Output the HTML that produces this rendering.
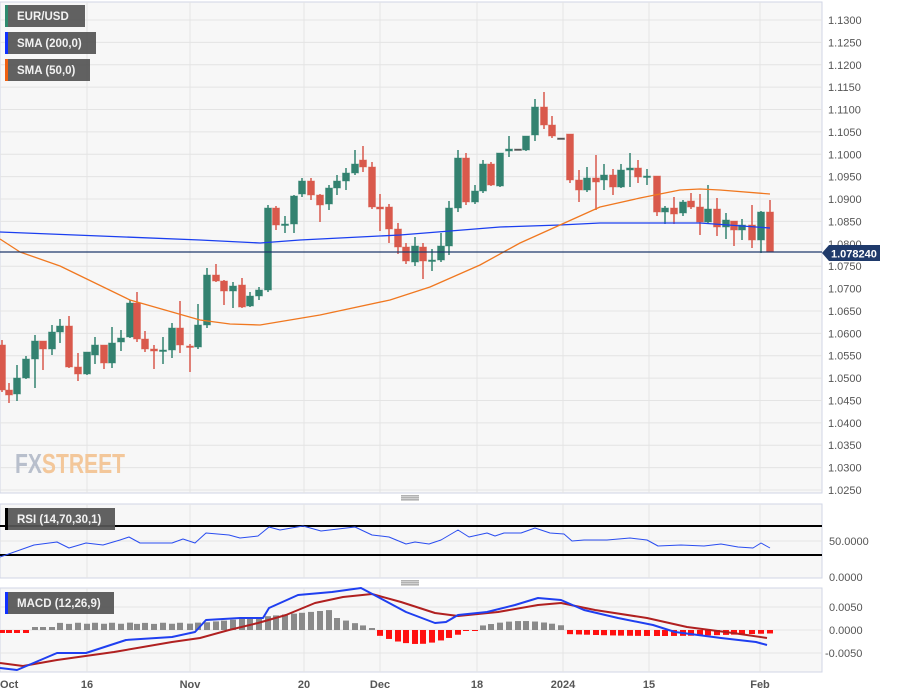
<!DOCTYPE html>
<html><head><meta charset="utf-8"><style>
body{margin:0;background:#fff;font-family:"Liberation Sans",sans-serif}
svg{display:block}
</style></head><body>
<svg id="s" width="898" height="697" xmlns="http://www.w3.org/2000/svg" font-family="Liberation Sans, sans-serif"></svg>
<script>
const s=document.getElementById('s');let h='';
h+='<rect x="0" y="2" width="822" height="491" fill="#f7f7f7" stroke="#d0d6e6"/>';
h+='<rect x="0" y="504" width="822" height="74" fill="#f7f7f7" stroke="#d0d6e6"/>';
h+='<rect x="0" y="588" width="822" height="84" fill="#f7f7f7" stroke="#d0d6e6"/>';
const vx=[87,190,304,380,477,563,649,760];
vx.forEach(x=>{h+=`<line x1="${x}" y1="2" x2="${x}" y2="493" stroke="#e4e4e4"/><line x1="${x}" y1="504" x2="${x}" y2="578" stroke="#e4e4e4"/><line x1="${x}" y1="588" x2="${x}" y2="672" stroke="#e4e4e4"/>`});
for(let i=0;i<=21;i++){const y=20+i*470/21;const p=(1.13-i*0.005).toFixed(4);
h+=`<line x1="0" y1="${y}" x2="822" y2="${y}" stroke="#e4e4e4"/><text x="828" y="${y+4}" font-size="11" fill="#555">${p}</text>`;}
[[607,'0.0050'],[630,'0.0000'],[653,'-0.0050']].forEach(a=>{h+=`<line x1="0" y1="${a[0]}" x2="822" y2="${a[0]}" stroke="#e4e4e4"/><text x="${a[1][0]=='-'?825:829}" y="${a[0]+4}" font-size="11" fill="#555">${a[1]}</text>`});
h+='<line x1="0" y1="541" x2="822" y2="541" stroke="#e4e4e4"/><text x="829" y="545" font-size="11" fill="#555">50.0000</text><text x="829" y="581" font-size="11" fill="#555">0.0000</text>';
[498,583].forEach(y=>{h+=`<rect x="401" y="${y-2.5}" width="18" height="0.8" fill="#666"/><rect x="401" y="${y-0.5}" width="18" height="0.8" fill="#666"/><rect x="401" y="${y+1.5}" width="18" height="0.8" fill="#666"/>`});
h+='<text x="15" y="473" font-size="28" font-weight="bold" textLength="110" lengthAdjust="spacingAndGlyphs" fill="#b8bfcc">FX<tspan fill="#f3c79a">STREET</tspan></text>';
const C=[[2,345,390,340,392,'r'],[9,390,395,383,403,'r'],[17,378,394,365,401,'g'],[26,359,378,356,379,'g'],[35,341,359,335,388,'g'],[43,341,349,341,370,'r'],[52,332,349,325,355,'g'],[60,326,332,319,343,'g'],[69,326,367,316,368,'r'],[78,367,374,353,381,'r'],[87,352,374,352,375,'g'],[95,345,355,337,364,'g'],[104,345,363,345,369,'r'],[112,343,363,327,368,'g'],[121,338,342,330,351,'g'],[130,303,337,300,338,'g'],[137,303,339,292,342,'r'],[145,339,349,331,352,'r'],[154,349,351,345,369,'r'],[163,350,351,337,364,'g'],[172,328,350,323,358,'g'],[180,328,345,301,353,'r'],[190,346,347,344,372,'r'],[198,325,347,304,349,'g'],[207,275,325,268,328,'g'],[216,275,281,264,282,'r'],[224,281,291,280,305,'r'],[233,286,291,282,308,'g'],[242,285,307,278,308,'r'],[250,296,306,292,307,'g'],[259,290,296,287,300,'g'],[268,208,290,205,292,'g'],[276,208,225,206,230,'r'],[285,224,225,216,233,'g'],[294,196,224,195,233,'g'],[302,181,194,178,197,'g'],[311,181,195,178,200,'r'],[320,195,205,194,222,'r'],[329,188,204,185,210,'g'],[337,181,188,175,195,'g'],[346,173,181,168,190,'g'],[355,164,173,150,175,'g'],[363,160,167,146,172,'r'],[372,167,207,162,209,'r'],[380,207,209,194,231,'r'],[389,207,229,204,243,'r'],[398,229,247,223,254,'r'],[406,247,261,243,264,'r'],[415,246,262,237,266,'g'],[423,247,261,243,279,'r'],[432,260,261,249,271,'g'],[441,246,260,233,262,'g'],[449,208,246,201,255,'g'],[458,158,208,150,212,'g'],[466,158,202,153,205,'r'],[475,191,202,185,204,'g'],[483,164,191,160,193,'g'],[491,164,185,162,186,'r'],[500,153,186,153,187,'g'],[509,149,151,136,157,'g'],[518,149,150,149,150,'k'],[526,136,150,136,151,'g'],[535,107,135,99,141,'g'],[544,107,125,92,129,'r'],[552,125,136,116,138,'r'],[561,138,139,138,139,'k'],[570,134,180,134,183,'r'],[579,180,190,170,202,'r'],[587,178,190,167,192,'g'],[596,178,182,155,210,'r'],[604,175,180,164,190,'g'],[613,175,187,169,195,'r'],[621,170,187,164,188,'g'],[630,168,170,153,187,'g'],[638,168,177,160,183,'r'],[647,176,177,169,185,'g'],[657,176,212,176,216,'r'],[665,208,212,206,224,'g'],[674,208,214,197,224,'r'],[683,202,213,200,216,'g'],[691,201,207,193,209,'r'],[700,207,222,194,235,'r'],[708,209,222,185,224,'g'],[717,209,227,198,236,'r'],[726,220,227,213,239,'g'],[734,221,230,221,246,'r'],[742,225,230,219,240,'g'],[752,225,240,205,248,'r'],[761,212,240,211,253,'g'],[770,212,252,200,252,'r']];
C.forEach(c=>{const col=c[5]=='g'?'#338270':c[5]=='r'?'#d9594c':'#555';const hh=Math.max(c[2]-c[1],1.5);
h+=`<line x1="${c[0]}" y1="${c[3]}" x2="${c[0]}" y2="${c[4]}" stroke="${col}" stroke-width="1.5"/><rect x="${c[0]-3.5}" y="${c[1]}" width="7" height="${hh}" fill="${col}" stroke="${col}" stroke-opacity="0.4"/>`});
function pl(p,col,w){return `<polyline fill="none" stroke="${col}" stroke-width="${w}" stroke-linejoin="round" points="${p.map(a=>a.join(',')).join(' ')}"/>`}
h+=pl([[0,232],[100,236],[200,240],[260,243],[300,240],[400,235],[450,231],[500,227],[560,225],[600,223],[700,223],[770,228]],'#1b3ff0',1.3);
h+=pl([[0,239],[20,252],[60,266],[130,300],[200,320],[230,324],[260,325],[290,320],[320,315],[390,300],[430,287],[480,265],[520,243],[560,225],[600,207],[640,198],[680,190],[700,189],[720,190],[770,194]],'#f07820',1.3);
h+='<line x1="0" y1="252" x2="822" y2="252" stroke="#1f3a6b" stroke-width="1.2"/>';
h+='<path d="M822 253 L829 245 H880 V261 H829 Z" fill="#1f3a6b"/><text x="831" y="257.5" font-size="11" font-weight="bold" fill="#fff">1.078240</text>';
h+='<line x1="0" y1="526" x2="822" y2="526" stroke="#000" stroke-width="2"/><line x1="0" y1="555" x2="822" y2="555" stroke="#000" stroke-width="2"/>';
h+=pl([[0,557],[34,545],[57,542],[69,548],[86,543],[103,545],[120,540],[129,537],[140,543],[172,543],[183,539],[195,543],[206,533],[229,535],[240,538],[258,536],[269,527],[280,530],[303,526],[321,531],[355,527],[372,535],[389,537],[406,544],[415,542],[429,544],[441,540],[458,530],[469,537],[487,533],[495,536],[504,533],[521,533],[535,528],[550,533],[564,534],[572,541],[584,540],[607,540],[630,538],[647,540],[658,546],[681,545],[704,546],[721,544],[738,547],[753,548],[761,543],[770,548]],'#2a4df0',1);
C.forEach((c,i)=>{const x=c[0];let v;
if(x<30)v=-3;else if(x<60)v=3;else if(x<200)v=6+(x%17)/8;else if(x<330)v=7+(x-200)/10;else if(x<375)v=Math.max(1,14-(x-330)/3.5);else if(x<460)v=-(4+10*Math.sin((x-375)/85*Math.PI));else if(x<480)v=-1;else if(x<565)v=4+5*Math.sin((x-480)/85*Math.PI);else v=-(4+2*Math.sin((x-565)/60));
const col=v>=0?'#8a8a8a':'#ff1010';h+=`<rect x="${x-3}" y="${v>=0?630-v:630}" width="6" height="${Math.abs(v)}" fill="${col}"/>`});
h+=pl([[0,663],[23,666],[57,660],[114,652],[172,642],[200,638],[229,630],[258,623],[286,615],[315,603],[343,597],[372,594],[401,602],[435,613],[458,616],[498,612],[538,605],[561,603],[595,610],[647,618],[687,627],[733,633],[767,638]],'#b02020',2);
h+=pl([[0,668],[17,670],[57,653],[86,653],[126,640],[172,637],[195,632],[206,620],[240,618],[263,618],[269,608],[298,595],[332,592],[361,588],[378,597],[406,612],[435,623],[446,622],[458,615],[487,612],[515,605],[538,598],[561,600],[584,610],[618,618],[653,625],[675,632],[721,638],[756,642],[767,645]],'#1f3ff0',2);
function lg(x,y,w,t,c){return `<rect x="${x}" y="${y}" width="${w}" height="22" fill="#555" opacity="0.93"/><rect x="${x}" y="${y}" width="3" height="22" fill="${c}"/><text x="${x+12}" y="${y+15}" font-size="11.5" font-weight="bold" fill="#f2f2f2">${t}</text>`}
h+=lg(5,5,80,'EUR/USD','#2e8a6e')+lg(5,32,91,'SMA (200,0)','#1030ff')+lg(5,59,85,'SMA (50,0)','#f06010');
h+=lg(5,508,110,'RSI (14,70,30,1)','#000')+lg(5,592,109,'MACD (12,26,9)','#1030ff');
[[0,'Oct'],[87,'16'],[190,'Nov'],[304,'20'],[380,'Dec'],[477,'18'],[563,'2024'],[649,'15'],[760,'Feb']].forEach(a=>{h+=`<text x="${a[0]}" y="688" font-size="11" font-weight="bold" fill="#555" text-anchor="${a[0]==0?'start':'middle'}">${a[1]}</text>`});
s.innerHTML=h;
</script>
</body></html>
